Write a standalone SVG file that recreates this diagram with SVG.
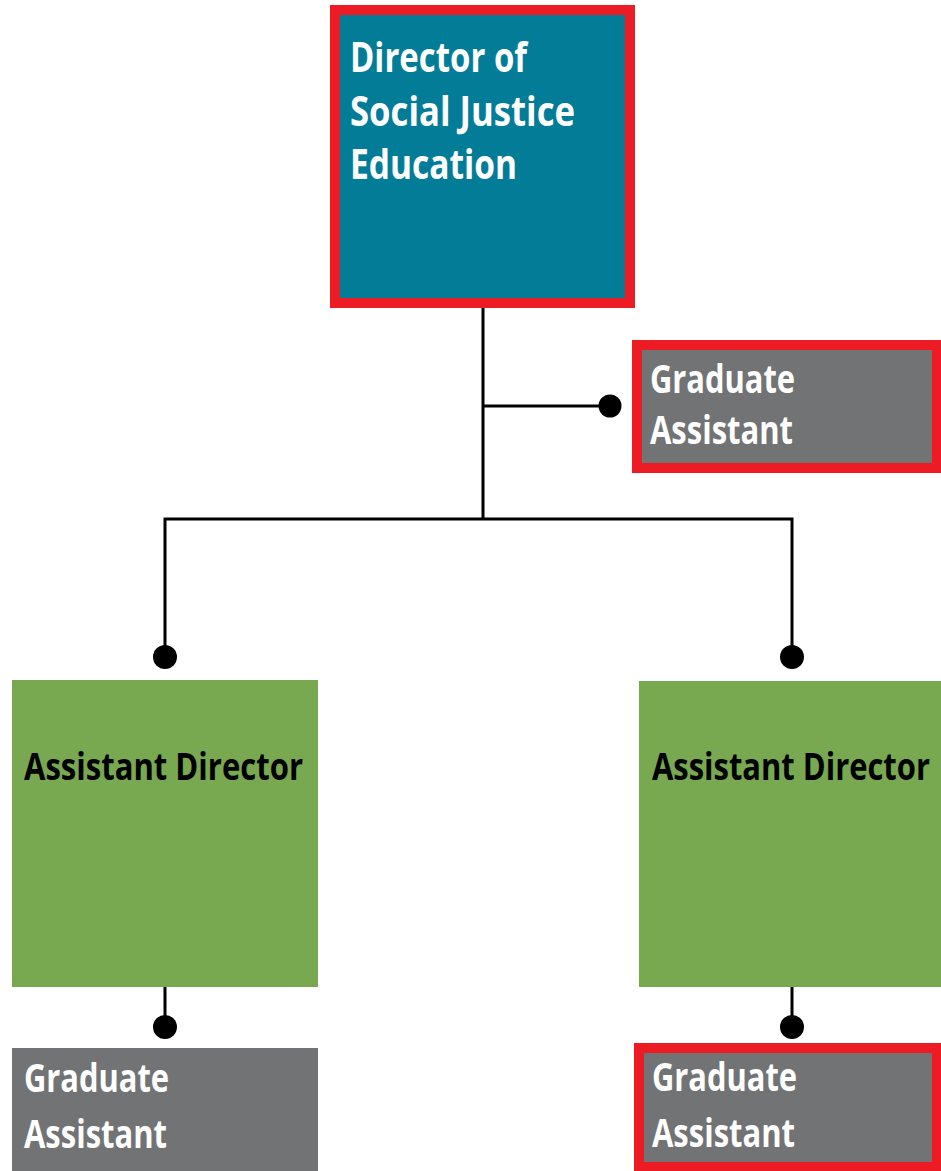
<svg xmlns="http://www.w3.org/2000/svg" width="941" height="1171" viewBox="0 0 941 1171">
<style>
.lbl{font-family:"Open Sans","Liberation Sans",sans-serif;font-weight:700}
.w{fill:#ffffff}
.k{fill:#000000}
.red{stroke:#ED1C24;stroke-width:10}
.teal{fill:#037C98}
.grey{fill:#717375}
.green{fill:#78A951}
.ln{stroke:#000;stroke-width:3;fill:none}
.dot{fill:#000}
</style>
<rect width="941" height="1171" fill="#ffffff"/>
<g id="connectors">
<path class="ln" d="M483 308 V519 M483 406 H610 M165 657 V519 H792 V657 M165 987 V1027 M792 987 V1027"/>
<circle class="dot" cx="610" cy="406" r="11.5"/>
<circle class="dot" cx="165" cy="657" r="12"/>
<circle class="dot" cx="792" cy="657" r="12"/>
<circle class="dot" cx="165" cy="1027" r="12"/>
<circle class="dot" cx="792" cy="1027" r="12"/>
</g>
<g id="director">
<rect class="teal red" x="335" y="10" width="295" height="293"/>
<text class="lbl w" font-size="42"><tspan x="350" y="72" textLength="177" lengthAdjust="spacingAndGlyphs">Director of</tspan><tspan x="350" y="126" textLength="225" lengthAdjust="spacingAndGlyphs">Social Justice</tspan><tspan x="350" y="179" textLength="167" lengthAdjust="spacingAndGlyphs">Education</tspan></text>
</g>
<g id="ga-top">
<rect class="grey red" x="637" y="345" width="300" height="123"/>
<text class="lbl w" font-size="40"><tspan x="650" y="393" textLength="145" lengthAdjust="spacingAndGlyphs">Graduate</tspan><tspan x="650" y="444" textLength="143" lengthAdjust="spacingAndGlyphs">Assistant</tspan></text>
</g>
<g id="ad-left">
<rect class="green" x="12" y="680" width="306" height="307"/>
<text class="lbl k" x="24" y="780" font-size="38" textLength="279" lengthAdjust="spacingAndGlyphs">Assistant Director</text>
</g>
<g id="ad-right">
<rect class="green" x="639" y="681" width="302" height="306"/>
<text class="lbl k" x="652" y="780" font-size="38" textLength="278" lengthAdjust="spacingAndGlyphs">Assistant Director</text>
</g>
<g id="ga-left">
<rect class="grey" x="12" y="1048" width="306" height="123"/>
<text class="lbl w" font-size="40"><tspan x="24" y="1092" textLength="145" lengthAdjust="spacingAndGlyphs">Graduate</tspan><tspan x="24" y="1148" textLength="143" lengthAdjust="spacingAndGlyphs">Assistant</tspan></text>
</g>
<g id="ga-right">
<rect class="grey red" x="639" y="1048" width="298" height="119"/>
<text class="lbl w" font-size="40"><tspan x="652" y="1091" textLength="145" lengthAdjust="spacingAndGlyphs">Graduate</tspan><tspan x="652" y="1147" textLength="143" lengthAdjust="spacingAndGlyphs">Assistant</tspan></text>
</g>
</svg>
